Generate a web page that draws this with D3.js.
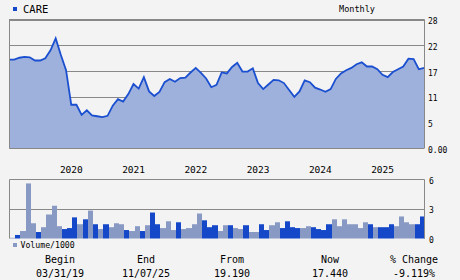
<!DOCTYPE html>
<html>
<head>
<meta charset="utf-8">
<script src="https://d3js.org/d3.v7.min.js"></script>
<style>
  html, body { margin: 0; padding: 0; background: #f3f3f3; }
  svg text { font-family: "DejaVu Sans Mono", monospace; fill: #000; }
</style>
</head>
<body>
<div id="chart"></div>
<script>
// Monthly closes, 03/2019 .. 11/2025
const prices = [
  19.3, 19.3, 19.7, 19.9, 19.8, 19.1, 19.1, 19.6, 21.3, 23.9,
  20.3, 17.0, 9.5, 9.5, 7.3, 8.3, 7.2, 7.0, 6.8, 7.1,
  9.3, 10.7, 10.2, 11.8, 14.0, 13.0, 15.5, 12.4, 11.4, 12.3,
  14.4, 15.1, 14.5, 15.3, 15.4, 16.5, 17.5, 16.4, 15.2, 13.3,
  13.8, 16.5, 16.3, 17.7, 18.6, 16.7, 16.7, 17.4, 14.2, 12.9,
  13.9, 14.9, 14.8, 14.2, 12.7, 11.2, 12.4, 14.8, 14.4, 13.2,
  12.8, 12.3, 12.9, 15.1, 16.3, 17.0, 17.5, 18.3, 18.7, 17.8,
  17.8, 17.2, 16.0, 15.5, 16.6, 17.2, 17.8, 19.5, 19.4, 17.2, 17.5
];

// Volume (thousands) per month and whether the bar is dark (up) or light
const volumes = [
  0.07, 0.36, 0.76, 5.6, 1.55, 0.66, 1.15, 2.44, 3.33, 1.25,
  0.96, 1.06, 2.15, 1.45, 1.95, 2.84, 1.45, 0.96, 1.45, 1.15,
  1.55, 1.45, 0.86, 0.76, 1.25, 0.76, 1.35, 2.64, 1.45, 1.06,
  1.75, 0.86, 1.65, 0.96, 1.06, 1.45, 2.54, 1.85, 1.15, 1.35,
  0.76, 1.35, 1.35, 1.06, 0.96, 1.35, 0.66, 0.66, 1.45, 0.86,
  1.35, 1.65, 1.06, 1.75, 1.15, 1.06, 1.06, 1.25, 1.15, 0.96,
  0.86, 1.45, 1.95, 1.25, 1.95, 1.45, 1.45, 1.06, 1.65, 1.45,
  1.15, 1.15, 1.15, 1.45, 1.25, 2.24, 1.65, 1.45, 1.45, 2.24
];
const volUp = [
  0, 1, 0, 0, 0, 1, 0, 0, 0, 0,
  1, 1, 1, 0, 1, 0, 1, 0, 1, 0,
  0, 0, 1, 0, 0, 1, 0, 1, 1, 0,
  0, 0, 1, 0, 0, 0, 0, 1, 1, 1,
  0, 0, 1, 0, 0, 1, 0, 0, 1, 1,
  0, 0, 1, 1, 1, 1, 0, 0, 1, 1,
  1, 1, 0, 0, 0, 0, 0, 0, 0, 1,
  0, 1, 1, 1, 0, 0, 0, 0, 1, 1
];

const yearLabels = ["2020", "2021", "2022", "2023", "2024", "2025"];
const yearStartIndex = [10, 22, 34, 46, 58, 70];

const priceTicks = [0, 5.6, 11.2, 16.8, 22.4, 28];
const priceTickLabels = ["0.00", "5", "11", "17", "22", "28"];
const volTicks = [0, 3, 6];
const volTickLabels = ["0", "3", "6"];

const summaryHeads = ["Begin", "End", "From", "Now", "% Change"];
const summaryValues = ["03/31/19", "11/07/25", "19.190", "17.440", "-9.119%"];

const width = 460, height = 280;
const left = 9, right = 424;
const gridColor = "#888888";

const svg = d3.select("#chart").append("svg")
  .attr("width", width)
  .attr("height", height);

svg.append("rect").attr("width", width).attr("height", height).attr("fill", "#f3f3f3");

const x = d3.scaleLinear().domain([0, prices.length - 1]).range([left, right]);
const y = d3.scaleLinear().domain([0, 28]).range([148.5, 19.5]);
const yv = d3.scaleLinear().domain([0, 6]).range([238.5, 179.5]);

// header
svg.append("rect").attr("x", 13).attr("y", 7).attr("width", 4).attr("height", 4).attr("fill", "#1448c8");
svg.append("text").attr("x", 23).attr("y", 12.5).style("font-size", "10.5px").text("CARE");
svg.append("text").attr("x", 357).attr("y", 12).attr("text-anchor", "middle")
  .style("font-size", "8.5px").text("Monthly");

// price grid
svg.selectAll("line.pgrid")
  .data(priceTicks.slice(1))
  .join("line")
  .attr("class", "pgrid")
  .attr("x1", left).attr("x2", right)
  .attr("y1", d => Math.round(y(d)) + 0.5).attr("y2", d => Math.round(y(d)) + 0.5)
  .attr("stroke", gridColor).attr("stroke-width", 1);

// area + line
const area = d3.area().x((d, i) => x(i)).y0(y(0)).y1(d => y(d));
const line = d3.line().x((d, i) => x(i)).y(d => y(d));

svg.append("path").datum(prices).attr("d", area).attr("fill", "#9eb0dc");
svg.append("path").datum(prices).attr("d", line)
  .attr("fill", "none").attr("stroke", "#1a4fd0").attr("stroke-width", 1.8);

// price frame
svg.append("path")
  .attr("d", `M${left + 0.5},19.5 V148.5 H${right} M${left},19.5 H${right + 0.5} V148.5`)
  .attr("fill", "none").attr("stroke", gridColor).attr("stroke-width", 1);

// price tick labels
svg.selectAll("text.plabel")
  .data(priceTicks)
  .join("text")
  .attr("class", "plabel")
  .attr("x", 428)
  .attr("y", d => y(d) + 2)
  .attr("dominant-baseline", "middle")
  .style("font-size", "8px")
  .text((d, i) => priceTickLabels[i]);

// year labels
svg.selectAll("text.year")
  .data(yearLabels)
  .join("text")
  .attr("class", "year")
  .attr("x", (d, i) => x(yearStartIndex[i]) - 1)
  .attr("y", 173)
  .style("font-size", "9.5px")
  .text(d => d);

// volume grid
svg.append("line")
  .attr("x1", left).attr("x2", right)
  .attr("y1", Math.round(yv(3)) + 0.5).attr("y2", Math.round(yv(3)) + 0.5)
  .attr("stroke", gridColor);

// volume bars
svg.selectAll("rect.vol")
  .data(volumes)
  .join("rect")
  .attr("class", "vol")
  .attr("x", (d, i) => Math.round(x(i)) + 1)
  .attr("width", (d, i) => Math.round(x(i + 1)) - Math.round(x(i)))
  .attr("y", d => yv(d))
  .attr("height", d => yv(0) - yv(d))
  .attr("fill", (d, i) => volUp[i] ? "#1448c8" : "#8899c4");

// volume frame
svg.append("path")
  .attr("d", `M${left + 0.5},238.5 V179.5 H${right + 0.5} V238.5`)
  .attr("fill", "none").attr("stroke", gridColor).attr("stroke-width", 1);

// volume tick labels
svg.selectAll("text.vlabel")
  .data(volTicks)
  .join("text")
  .attr("class", "vlabel")
  .attr("x", 429)
  .attr("y", d => yv(d) + 1.5)
  .attr("dominant-baseline", "middle")
  .style("font-size", "8px")
  .text((d, i) => volTickLabels[i]);

// volume legend
svg.append("rect").attr("x", 13).attr("y", 243).attr("width", 4).attr("height", 4).attr("fill", "#8899c4");
svg.append("text").attr("x", 20.5).attr("y", 248).style("font-size", "8.2px").text("Volume/1000");

// summary row
const colX = [60, 146, 232, 330, 414];
svg.selectAll("text.shead")
  .data(summaryHeads)
  .join("text")
  .attr("class", "shead")
  .attr("x", (d, i) => colX[i])
  .attr("y", 263)
  .attr("text-anchor", "middle")
  .style("font-size", "10px")
  .text(d => d);
svg.selectAll("text.sval")
  .data(summaryValues)
  .join("text")
  .attr("class", "sval")
  .attr("x", (d, i) => colX[i])
  .attr("y", 277)
  .attr("text-anchor", "middle")
  .style("font-size", "10px")
  .text(d => d);
</script>
</body>
</html>
